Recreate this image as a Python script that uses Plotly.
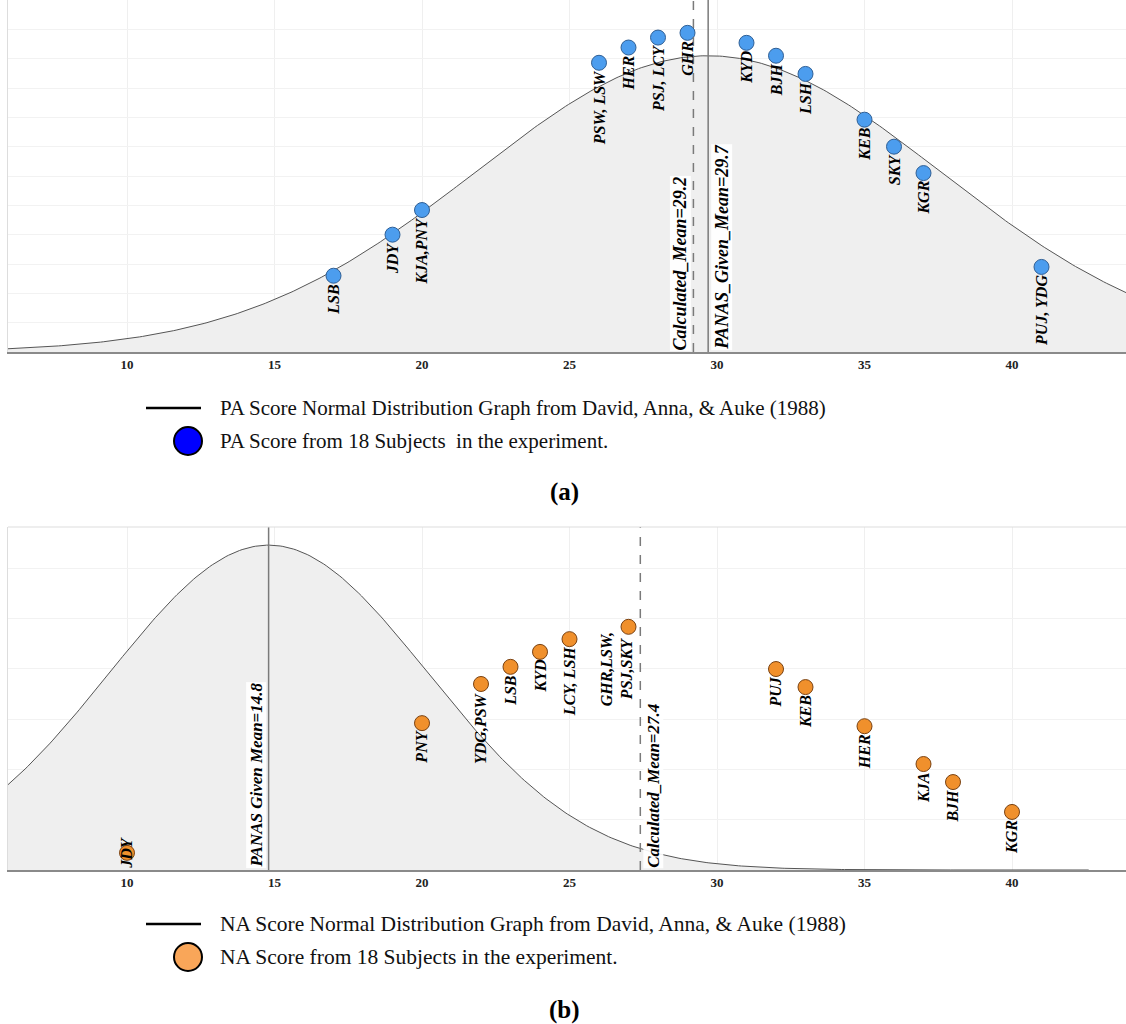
import numpy as np
import plotly.graph_objects as go

# ---------------- Data ----------------
tick_vals = [10, 15, 20, 25, 30, 35, 40]

# Panel (a): Positive Affect
pa_given_mean = 29.7
pa_given_sd = 7.9
pa_calc_mean = 29.2
pa_scores = [17, 19, 20, 26, 27, 28, 29, 31, 32, 33, 35, 36, 37, 41]
pa_heights = [0.0130, 0.0200, 0.0242, 0.0493, 0.0519, 0.0536, 0.0544,
              0.0527, 0.0505, 0.0474, 0.0396, 0.0350, 0.0305, 0.0145]
pa_labels = ["LSB", "JDY", "KJA,PNY", "PSW, LSW", "HER", "PSJ, LCY", "GHR",
             "KYD", "BJH", "LSH", "KEB", "SKY", "KGR", "PUJ, YDG"]

# Panel (b): Negative Affect
na_given_mean = 14.8
na_given_sd = 5.4
na_calc_mean = 27.4
na_scores = [10, 20, 22, 23, 24, 25, 27, 32, 33, 35, 37, 38, 40]
na_heights = [0.0039, 0.0334, 0.0423, 0.0462, 0.0496, 0.0525, 0.0553,
              0.0457, 0.0416, 0.0327, 0.0241, 0.0200, 0.0132]
na_labels = ["JDY", "PNY", "YDG,PSW", "LSB", "KYD", "LCY, LSH",
             "GHR,LSW,<br>PSJ,SKY", "PUJ", "KEB", "HER", "KJA", "BJH", "KGR"]

# ---------------- Helpers ----------------
W, H = 1126, 1024
SERIF = "Liberation Serif, Times New Roman, serif"


def normal_pdf(x, mu, sd):
    return np.exp(-0.5 * ((x - mu) / sd) ** 2) / (sd * np.sqrt(2 * np.pi))


def px(xp):
    return xp / W


def py(yp):
    return 1 - yp / H


x_range = [5.966, 43.864]
pa_curve_x = np.linspace(x_range[0], x_range[1], 400)
na_curve_x = np.linspace(5.9, 42.6, 400)

fig = go.Figure()

# Curves
fig.add_trace(go.Scatter(
    x=pa_curve_x, y=normal_pdf(pa_curve_x, pa_given_mean, pa_given_sd),
    mode="lines", fill="tozeroy", fillcolor="#EFEFEF",
    line=dict(color="#555555", width=1), xaxis="x", yaxis="y",
    showlegend=False, hoverinfo="skip"))
fig.add_trace(go.Scatter(
    x=na_curve_x, y=normal_pdf(na_curve_x, na_given_mean, na_given_sd),
    mode="lines", fill="tozeroy", fillcolor="#EFEFEF",
    line=dict(color="#555555", width=1), xaxis="x2", yaxis="y2",
    showlegend=False, hoverinfo="skip"))

# Points
fig.add_trace(go.Scatter(
    x=pa_scores, y=pa_heights, mode="markers", xaxis="x", yaxis="y",
    marker=dict(size=15, color="#4C9DEE", line=dict(color="#2F5F95", width=1)),
    showlegend=False))
fig.add_trace(go.Scatter(
    x=na_scores, y=na_heights, mode="markers", xaxis="x2", yaxis="y2",
    marker=dict(size=15, color="#F0902C", line=dict(color="#7A4212", width=1)),
    showlegend=False))

annotations = []
shapes = []

label_font = dict(family=SERIF, size=16, color="black")

# Point labels panel (a)
for s, h, lab in zip(pa_scores, pa_heights, pa_labels):
    annotations.append(dict(
        x=s, y=h, xref="x", yref="y", text="<b><i>%s</i></b>" % lab,
        textangle=-90, showarrow=False, xanchor="center", yanchor="top",
        yshift=-6, font=label_font))

# Point labels panel (b)
special_b = {"JDY": dict(yanchor="middle", yshift=0, xshift=0),
             "GHR,LSW,<br>PSJ,SKY": dict(yanchor="top", yshift=-4, xshift=-12)}
for s, h, lab in zip(na_scores, na_heights, na_labels):
    opt = special_b.get(lab, dict(yanchor="top", yshift=-6, xshift=0))
    annotations.append(dict(
        x=s, y=h, xref="x2", yref="y2", text="<b><i>%s</i></b>" % lab,
        textangle=-90, showarrow=False, xanchor="center",
        yanchor=opt["yanchor"], yshift=opt["yshift"], xshift=opt["xshift"],
        font=label_font))

# Mean lines
for xv, xref, yref, dash in [(pa_given_mean, "x", "y domain", "solid"),
                             (pa_calc_mean, "x", "y domain", "dash"),
                             (na_given_mean, "x2", "y2 domain", "solid"),
                             (na_calc_mean, "x2", "y2 domain", "dash")]:
    shapes.append(dict(type="line", xref=xref, yref=yref, x0=xv, x1=xv,
                       y0=0, y1=1, line=dict(color="#7a7a7a", width=1.5, dash=dash)))

for xv, xref, yref, txt, side, fsz in [
        (pa_calc_mean, "x", "y", "Calculated_Mean=29.2", "right", 18),
        (pa_given_mean, "x", "y", "PANAS_Given_Mean=29.7", "left", 18),
        (na_given_mean, "x2", "y2", "PANAS Given Mean=14.8", "right", 17),
        (na_calc_mean, "x2", "y2", "Calculated_Mean=27.4", "left", 17)]:
    annotations.append(dict(
        x=xv, y=0, xref=xref, yref=yref, text="<b><i>%s</i></b>" % txt,
        textangle=-90, showarrow=False, xanchor=side, yanchor="bottom",
        xshift=(-2 if side == "right" else 2), yshift=1,
        bgcolor="rgba(255,255,255,0.9)", borderpad=0,
        font=dict(family=SERIF, size=fsz, color="black")))

# Top border of panel (b)
shapes.append(dict(type="line", xref="x2 domain", yref="y2 domain",
                   x0=0, x1=1, y0=1, y1=1, line=dict(color="#dddddd", width=1)))

# Legends (drawn manually in paper coordinates)
for (ly_line, ly_dot, t1, t2, dot_col, tag, ytag, fs) in [
        (408, 441, "PA Score Normal Distribution Graph from David, Anna, &amp; Auke (1988)",
         "PA Score from 18 Subjects \u00a0in the experiment.", "#0000FF", "(a)", 492, 21),
        (924, 957, "NA Score Normal Distribution Graph from David, Anna, &amp; Auke (1988)",
         "NA Score from 18 Subjects in the experiment.", "#F9A659", "(b)", 1010, 21.5)]:
    leg_font = dict(family=SERIF, size=fs, color="#111111")
    shapes.append(dict(type="line", xref="paper", yref="paper",
                       x0=px(146), x1=px(201), y0=py(ly_line), y1=py(ly_line),
                       line=dict(color="black", width=2.5)))
    shapes.append(dict(type="circle", xref="paper", yref="paper",
                       x0=px(174), x1=px(202), y0=py(ly_dot + 14), y1=py(ly_dot - 14),
                       fillcolor=dot_col, line=dict(color="black", width=2)))
    annotations.append(dict(x=px(218), y=py(ly_line), xref="paper", yref="paper",
                            text=t1, showarrow=False, xanchor="left", yanchor="middle",
                            font=leg_font))
    annotations.append(dict(x=px(218), y=py(ly_dot), xref="paper", yref="paper",
                            text=t2, showarrow=False, xanchor="left", yanchor="middle",
                            font=leg_font))
    annotations.append(dict(x=px(564), y=py(ytag), xref="paper", yref="paper",
                            text="<b>%s</b>" % tag, showarrow=False, xanchor="center",
                            yanchor="middle", font=dict(family=SERIF, size=25, color="black")))

axis_common = dict(range=x_range, tickvals=tick_vals,
                   ticktext=["<b>%d</b>" % v for v in tick_vals],
                   tickfont=dict(family=SERIF, size=13, color="#222222"),
                   showgrid=True, gridcolor="#EFEFEF", gridwidth=1,
                   zeroline=False, showline=True, linecolor="#8a8a8a", linewidth=1.5,
                   ticks="", fixedrange=True)

fig.update_layout(
    width=W, height=H, margin=dict(l=0, r=0, t=0, b=0),
    paper_bgcolor="white", plot_bgcolor="white",
    xaxis=dict(domain=[px(8), 1], anchor="y", **axis_common),
    yaxis=dict(domain=[py(352), 1], range=[0, 0.06], dtick=0.005, tick0=0,
               showticklabels=False, gridcolor="#F2F2F2", zeroline=False,
               showline=True, linecolor="#dddddd", anchor="x", ticks=""),
    xaxis2=dict(domain=[px(8), 1], anchor="y2", **axis_common),
    yaxis2=dict(domain=[py(870), py(527)], range=[0, 0.0780], dtick=0.01144, tick0=0,
                showticklabels=False, gridcolor="#F2F2F2", zeroline=False,
                showline=True, linecolor="#dddddd", anchor="x2", ticks=""),
    annotations=annotations, shapes=shapes, showlegend=False)

fig.write_html("out.html", config={"displayModeBar": False},
               post_script="document.body.style.margin='0';document.body.style.padding='0';")
